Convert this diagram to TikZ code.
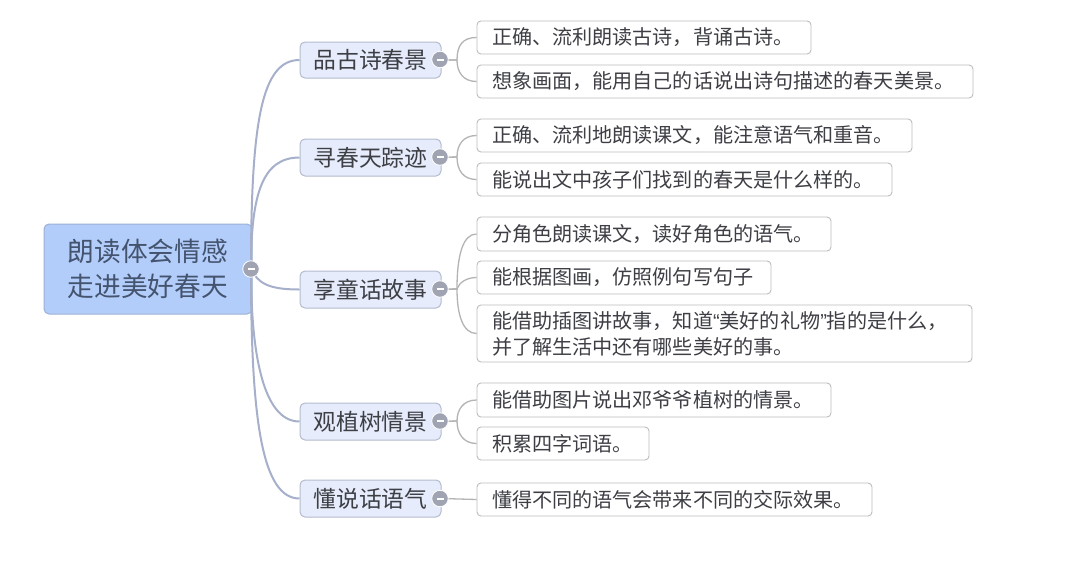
\documentclass[tikz,border=0pt]{standalone}
\usepackage{fontspec}
\setmainfont{Noto Sans CJK SC}
\newfontfamily\quotefont{Liberation Sans}
\newcommand\lowered[1]{\raisebox{-1pt}{#1}}
\begin{document}
\begin{tikzpicture}[x=1pt,y=-1pt,
  rootbox/.style={draw=rootedge,fill=rootfill,line width=1pt,rounded corners=5pt,text=roottext,font=\fontsize{26.7}{35}\selectfont,align=center,inner sep=0pt},
  branchbox/.style={draw=branchedge,fill=branchfill,line width=1pt,rounded corners=5pt,text=textc,font=\fontsize{22.8}{26}\selectfont,inner sep=0pt},
  leafbox/.style={draw=leafedge,fill=white,line width=0.9pt,rounded corners=4pt,text=textc,font=\fontsize{20.1}{26}\selectfont,align=left,inner xsep=15pt,inner ysep=0pt,text width=#1},
  mainlink/.style={draw=linkmain,line width=2pt},
  leaflink/.style={draw=linkleaf,line width=1.3pt},
  collapse/.style={circle,fill=minusc,draw=white,line width=0.8pt,minimum size=16.5pt,inner sep=0pt,path picture={\fill[white] ([xshift=-3.5pt,yshift=-1pt]path picture bounding box.center) rectangle ([xshift=3.5pt,yshift=1pt]path picture bounding box.center);}}
]
\definecolor{rootedge}{HTML}{9DB0D6}
\definecolor{rootfill}{HTML}{B3CDFB}
\definecolor{roottext}{HTML}{44546F}
\definecolor{branchedge}{HTML}{B4BBCE}
\definecolor{branchfill}{HTML}{E6ECFB}
\definecolor{textc}{HTML}{3D3F45}
\definecolor{leafedge}{HTML}{BDBDBD}
\definecolor{linkmain}{HTML}{A6B0CB}
\definecolor{linkleaf}{HTML}{B4B4B8}
\definecolor{minusc}{HTML}{A0A4B2}
\useasboundingbox (0,0) rectangle (1080,587);
\fill[white] (0,0) rectangle (1080,587);

\coordinate (hub) at (251,269);
\node[rootbox,minimum width=208pt,minimum height=90pt] (root) at (148,269) {\lowered{朗读体会情感}\\\lowered{走进美好春天}};

\node[branchbox,minimum width=141pt,minimum height=36pt] (b1) at (370.5,60) {品古诗春景};
\node[branchbox,minimum width=141pt,minimum height=37pt] (b2) at (370.5,157.5) {寻春天踪迹};
\node[branchbox,minimum width=141pt,minimum height=37pt] (b3) at (370.5,289.5) {享童话故事};
\node[branchbox,minimum width=141pt,minimum height=37pt] (b4) at (370.5,421.5) {观植树情景};
\node[branchbox,minimum width=141pt,minimum height=37pt] (b5) at (370.5,498.5) {懂说话语气};

\node[leafbox=304pt,minimum height=33pt] (l1) at (644,37.5) {\lowered{正确、流利朗读古诗，背诵古诗。}};
\node[leafbox=466pt,minimum height=33pt] (l2) at (725,81.5) {\lowered{想象画面，能用自己的话说出诗句描述的春天美景。}};
\node[leafbox=405pt,minimum height=33pt] (l3) at (694.5,135.5) {\lowered{正确、流利地朗读课文，能注意语气和重音。}};
\node[leafbox=385pt,minimum height=33pt] (l4) at (684.5,179.5) {\lowered{能说出文中孩子们找到的春天是什么样的。}};
\node[leafbox=324pt,minimum height=34pt] (l5) at (654,234) {\lowered{分角色朗读课文，读好角色的语气。}};
\node[leafbox=264pt,minimum height=33pt] (l6) at (624,277.5) {\lowered{能根据图画，仿照例句写句子}};
\node[leafbox=465pt,minimum height=57pt] (l7) at (724.5,333.5) {能借助插图讲故事，知道{\quotefont “}美好的礼物{\quotefont ”}指的是什么，\\并了解生活中还有哪些美好的事。};
\node[leafbox=324pt,minimum height=34pt] (l8) at (654,400) {\lowered{能借助图片说出邓爷爷植树的情景。}};
\node[leafbox=142pt,minimum height=33pt] (l9) at (563,443.5) {\lowered{积累四字词语。}};
\node[leafbox=365pt,minimum height=33pt] (l10) at (674.5,499.5) {\lowered{懂得不同的语气会带来不同的交际效果。}};

\draw[mainlink] (hub) .. controls (251,120) and (262,60) .. (b1.west);
\draw[mainlink] (hub) .. controls (251,195) and (262,157.5) .. (b2.west);
\draw[mainlink] (hub) .. controls (258,283) and (268,289.5) .. (b3.west);
\draw[mainlink] (hub) .. controls (251,350) and (262,421.5) .. (b4.west);
\draw[mainlink] (hub) .. controls (251,420) and (262,498.5) .. (b5.west);

\draw[leaflink] (b1.east) -- (457,60) .. controls (457,45) and (463,37.5) .. (l1.west);
\draw[leaflink] (b1.east) -- (457,60) .. controls (457,72) and (463,81.5) .. (l2.west);
\draw[leaflink] (b2.east) -- (457,157) .. controls (457,145) and (463,135.5) .. (l3.west);
\draw[leaflink] (b2.east) -- (457,157) .. controls (457,170) and (463,179.5) .. (l4.west);
\draw[leaflink] (b3.east) -- (457,289) .. controls (457,255) and (463,234) .. (l5.west);
\draw[leaflink] (b3.east) -- (457,289) .. controls (459,283) and (466,277.5) .. (l6.west);
\draw[leaflink] (b3.east) -- (457,289) .. controls (457,315) and (463,333.5) .. (l7.west);
\draw[leaflink] (b4.east) -- (457,421) .. controls (457,410) and (463,400) .. (l8.west);
\draw[leaflink] (b4.east) -- (457,421) .. controls (457,433) and (463,443.5) .. (l9.west);
\draw[leaflink] (b5.east) -- (l10.west);

\node[collapse] (c0) at (hub) {};
\node[collapse] (c1) at (440,59.5) {};
\node[collapse] (c2) at (440,157) {};
\node[collapse] (c3) at (440,289) {};
\node[collapse] (c4) at (440,421) {};
\node[collapse] (c5) at (440,498.5) {};
\end{tikzpicture}
\end{document}
